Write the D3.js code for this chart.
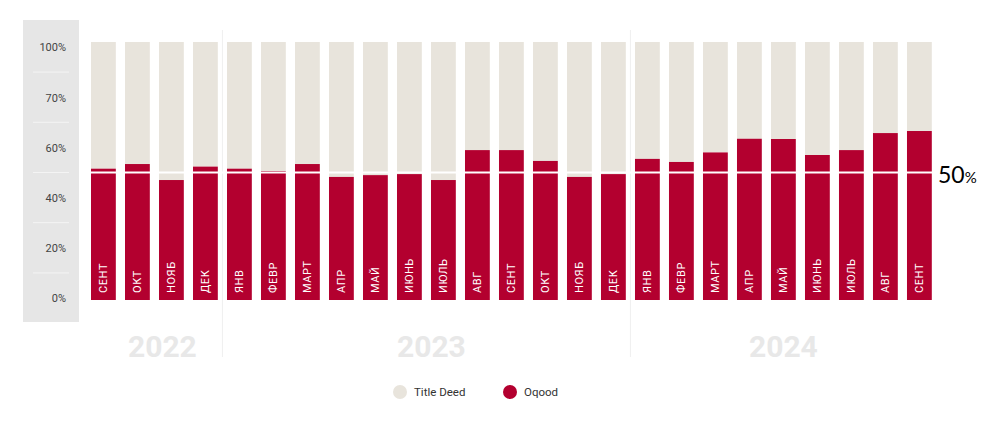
<!DOCTYPE html>
<html><head><meta charset="utf-8">
<script src="https://cdn.jsdelivr.net/npm/d3@7"></script>
<style>body{margin:0;background:#fff}svg{display:block}</style>
</head><body><svg id="c" width="1000" height="423"></svg>
<script>
const months = ["СЕНТ","ОКТ","НОЯБ","ДЕК","ЯНВ","ФЕВР","МАРТ","АПР","МАЙ","ИЮНЬ","ИЮЛЬ","АВГ","СЕНТ","ОКТ","НОЯБ","ДЕК","ЯНВ","ФЕВР","МАРТ","АПР","МАЙ","ИЮНЬ","ИЮЛЬ","АВГ","СЕНТ"];
const years = ["2022","2022","2022","2022","2023","2023","2023","2023","2023","2023","2023","2023","2023","2023","2023","2023","2024","2024","2024","2024","2024","2024","2024","2024","2024"];
const oqood = [50.9,52.7,46.5,51.7,50.9,50.0,52.7,47.7,48.4,48.8,46.5,58.1,58.1,53.9,47.7,48.8,54.7,53.5,57.2,62.5,62.4,56.2,58.1,64.7,65.5];
const titleDeed = oqood.map(v => 100 - v);
const yTickLabels = ["100%","70%","60%","40%","20%","0%"];
const yearLabels = ["2022","2023","2024"];
const seriesNames = ["Title Deed","Oqood"];
const refValue = 50;

const colors = {"Title Deed":"#e8e4dc","Oqood":"#b3002f"};
const svg = d3.select("#c");
const keys = months.map((m,i)=>years[i]+"-"+i);

const x = d3.scaleBand().domain(keys).range([91, 931.8]).paddingInner(0.27).paddingOuter(0);
const y = d3.scaleLinear().domain([0,100]).range([300,42]);

// y panel
svg.append("rect").attr("x",23).attr("y",20).attr("width",56).attr("height",302).attr("fill","#e6e6e6");
const yp = d3.scalePoint().domain(yTickLabels).range([47,298]);
const yAxis = svg.append("g").attr("transform","translate(66,0)").call(d3.axisLeft(yp).tickSize(0).tickPadding(0));
yAxis.select(".domain").remove();
yAxis.selectAll("text").attr("font-family","Roboto, sans-serif").attr("font-size",11).attr("fill","#444").attr("dy","0.35em");
const stepY = yp.step();
svg.append("g").selectAll("line").data(yTickLabels.slice(0,-1)).join("line")
  .attr("x1",33).attr("x2",69)
  .attr("y1",d=>yp(d)+stepY/2).attr("y2",d=>yp(d)+stepY/2)
  .attr("stroke","#f4f4f4").attr("stroke-width",1);

// separators between years
const sepIdx = [];
for (let i=1;i<years.length;i++) if (years[i]!==years[i-1]) sepIdx.push(i);
svg.append("g").selectAll("line").data(sepIdx).join("line")
  .attr("x1",i=>x(keys[i]) - (x.step()-x.bandwidth())/2)
  .attr("x2",i=>x(keys[i]) - (x.step()-x.bandwidth())/2)
  .attr("y1",30).attr("y2",357).attr("stroke","#efefef").attr("stroke-width",1);

// bars
const g = svg.append("g");
g.selectAll("rect.td").data(keys).join("rect").attr("class","td")
  .attr("x",k=>x(k)).attr("width",x.bandwidth())
  .attr("y",(k,i)=>y(100)).attr("height",(k,i)=>y(oqood[i])-y(100))
  .attr("fill",colors["Title Deed"]);
g.selectAll("rect.oq").data(keys).join("rect").attr("class","oq")
  .attr("x",k=>x(k)).attr("width",x.bandwidth())
  .attr("y",(k,i)=>y(oqood[i])).attr("height",(k,i)=>y(0)-y(oqood[i]))
  .attr("fill",colors["Oqood"]);

// reference line
svg.append("line").attr("x1",x(keys[0])-2).attr("x2",x(keys[keys.length-1])+x.bandwidth()+2)
  .attr("y1",y(refValue)+1.5).attr("y2",y(refValue)+1.5).attr("stroke","#fff").attr("stroke-width",2);
const refT = svg.append("text").attr("x",938).attr("y",y(refValue)+11.5)
  .attr("font-family","Lato, sans-serif").attr("font-weight",400).attr("fill","#000");
refT.append("tspan").attr("font-size",23).text(refValue);
refT.append("tspan").attr("font-size",15).text("%");

// month labels
g.selectAll("text.m").data(keys).join("text").attr("class","m")
  .attr("transform",k=>`translate(${x(k)+x.bandwidth()/2},293) rotate(-90)`)
  .attr("dy","0.36em")
  .attr("font-family","Roboto, sans-serif").attr("font-size",11).attr("font-weight",400)
  .attr("letter-spacing",0.6)
  .attr("fill","#fff").text((k,i)=>months[i]);

// year labels
svg.append("g").selectAll("text").data(yearLabels).join("text")
  .attr("x",yr=>{
    const idx = keys.map((k,i)=>i).filter(i=>years[i]===yr);
    const a = x(keys[idx[0]]), b = x(keys[idx[idx.length-1]])+x.bandwidth();
    return (a+b)/2 + (yr==="2022"?8:(yr==="2023"?5:0));
  })
  .attr("y",357).attr("text-anchor","middle")
  .attr("font-family","Roboto, sans-serif").attr("font-weight",700).attr("font-size",30)
  .attr("fill","#e8e8e8").text(d=>d);

// legend
const lg = svg.append("g");
const lx = [400, 510];
seriesNames.forEach((s,i)=>{
  lg.append("circle").attr("cx",lx[i]).attr("cy",392).attr("r",7).attr("fill",colors[s]);
  lg.append("text").attr("x",lx[i]+14).attr("y",392).attr("dy","0.35em")
    .attr("font-family","Roboto, sans-serif").attr("font-size",11.5).attr("fill","#333").text(s);
});
</script></body></html>
